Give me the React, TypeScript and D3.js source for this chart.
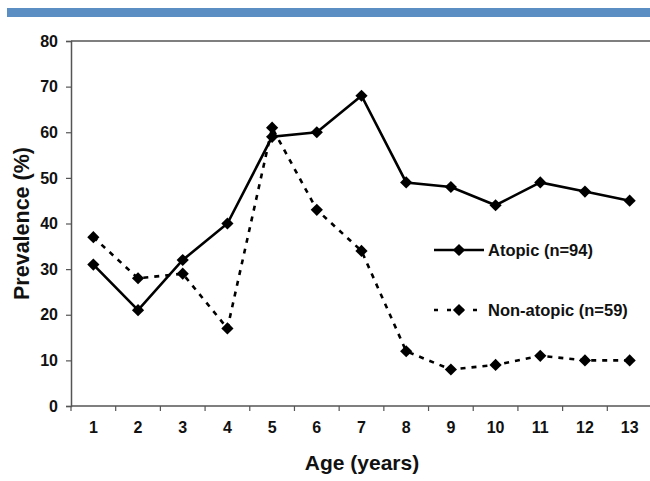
import { useEffect, useRef } from 'react';
import * as d3 from 'd3';

const ages = [1, 2, 3, 4, 5, 6, 7, 8, 9, 10, 11, 12, 13];
const atopic = [31, 21, 32, 40, 59, 60, 68, 49, 48, 44, 49, 47, 45];
const nonAtopic = [37, 28, 29, 17, 61, 43, 34, 12, 8, 9, 11, 10, 10];
const yTicks = [0, 10, 20, 30, 40, 50, 60, 70, 80];

const W = 650;
const H = 481;
const FONT = 'Arial, "Liberation Sans", Helvetica, sans-serif';

export default function App() {
  const svgRef = useRef<SVGSVGElement>(null);

  useEffect(() => {
    if (!svgRef.current) return;
    const svg = d3.select(svgRef.current);
    svg.selectAll('*').remove();

    const margin = { top: 41, right: -2, bottom: 75, left: 71 };
    const innerW = W - margin.left - margin.right;

    // banner on top
    svg.append('rect')
      .attr('x', 7).attr('y', 8)
      .attr('width', W - 7).attr('height', 9)
      .attr('fill', '#5b8fc4');

    const x = d3.scaleBand<number>()
      .domain(ages)
      .range([margin.left, margin.left + innerW]);
    const y = d3.scaleLinear()
      .domain([0, 80])
      .range([H - margin.bottom, margin.top]);

    // top border line
    svg.append('line')
      .attr('x1', margin.left).attr('x2', W)
      .attr('y1', y(80)).attr('y2', y(80))
      .attr('stroke', '#555').attr('stroke-width', 1.5);

    // y axis
    const yAxis = svg.append('g')
      .attr('transform', `translate(${margin.left},0)`)
      .call(d3.axisLeft(y).tickValues(yTicks).tickSize(5).tickPadding(8));
    yAxis.select('.domain').attr('stroke', '#555').attr('stroke-width', 1.5);
    yAxis.selectAll('.tick line').attr('stroke', '#555').attr('stroke-width', 1.2);
    yAxis.selectAll('.tick text')
      .attr('font-family', FONT).attr('font-size', 16)
      .attr('font-weight', 'bold').attr('fill', '#111');

    // x axis with ticks at category boundaries
    const xAxisG = svg.append('g');
    xAxisG.append('line')
      .attr('x1', margin.left).attr('x2', W)
      .attr('y1', y(0)).attr('y2', y(0))
      .attr('stroke', '#555').attr('stroke-width', 1.5);
    xAxisG.selectAll('.xtick')
      .data(ages)
      .enter()
      .append('line')
      .attr('x1', d => (x(d) ?? 0))
      .attr('x2', d => (x(d) ?? 0))
      .attr('y1', y(0)).attr('y2', y(0) + 5)
      .attr('stroke', '#555').attr('stroke-width', 1.2);
    xAxisG.selectAll('.xlabel')
      .data(ages)
      .enter()
      .append('text')
      .attr('x', d => (x(d) ?? 0) + x.bandwidth() / 2)
      .attr('y', y(0) + 27)
      .attr('text-anchor', 'middle')
      .attr('font-family', FONT).attr('font-size', 16)
      .attr('font-weight', 'bold').attr('fill', '#111')
      .text(d => d);

    // axis titles
    svg.append('text')
      .attr('x', 362).attr('y', 470)
      .attr('text-anchor', 'middle')
      .attr('font-family', FONT).attr('font-size', 21)
      .attr('font-weight', 'bold').attr('fill', '#111')
      .text('Age (years)');
    svg.append('text')
      .attr('transform', `translate(29,${(y(0) + y(80)) / 2}) rotate(-90)`)
      .attr('text-anchor', 'middle')
      .attr('font-family', FONT).attr('font-size', 21.5)
      .attr('font-weight', 'bold').attr('fill', '#111')
      .text('Prevalence (%)');

    const cx = (i: number) => (x(ages[i]) ?? 0) + x.bandwidth() / 2;
    const line = d3.line<number>()
      .x((_, i) => cx(i))
      .y(d => y(d));

    const diamond = d3.symbol().type(d3.symbolDiamond2).size(95);

    const series = [
      { values: nonAtopic, dash: '5,6' },
      { values: atopic, dash: null as string | null },
    ];

    series.forEach(s => {
      svg.append('path')
        .datum(s.values)
        .attr('d', line)
        .attr('fill', 'none')
        .attr('stroke', '#000')
        .attr('stroke-width', 2.6)
        .attr('stroke-dasharray', s.dash);
      svg.selectAll(null)
        .data(s.values)
        .enter()
        .append('path')
        .attr('d', diamond)
        .attr('transform', (d, i) => `translate(${cx(i)},${y(d)})`)
        .attr('fill', '#000');
    });

    // legend
    const legend = [
      { label: 'Atopic (n=94)', dash: null as string | null, yPos: 250 },
      { label: 'Non-atopic (n=59)', dash: '4,9', yPos: 310 },
    ];
    legend.forEach(l => {
      svg.append('line')
        .attr('x1', 434).attr('x2', 484)
        .attr('y1', l.yPos).attr('y2', l.yPos)
        .attr('stroke', '#000').attr('stroke-width', 2.6)
        .attr('stroke-dasharray', l.dash);
      svg.append('path')
        .attr('d', diamond)
        .attr('transform', `translate(459,${l.yPos})`)
        .attr('fill', '#000');
      svg.append('text')
        .attr('x', 488).attr('y', l.yPos + 6)
        .attr('font-family', FONT).attr('font-size', 16.5)
        .attr('font-weight', 'bold').attr('fill', '#111')
        .text(l.label);
    });
  }, []);

  return (
    <svg
      ref={svgRef}
      width={W}
      height={H}
      style={{ position: 'absolute', left: 0, top: 0, background: '#fff' }}
    />
  );
}
